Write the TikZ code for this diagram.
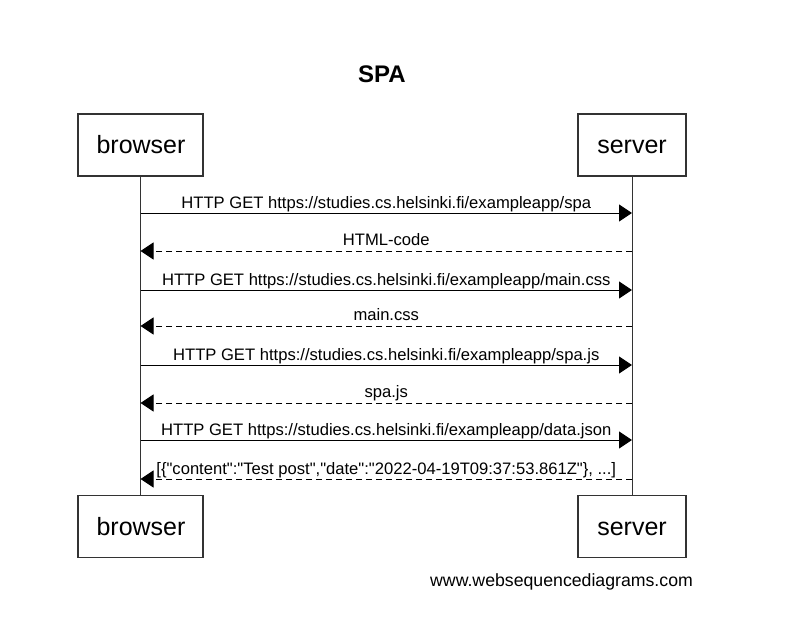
\documentclass[tikz,border=0pt]{standalone}
\usepackage{fontspec}
\setmainfont{Liberation Sans}[Ligatures=TeXOff]
\usetikzlibrary{arrows.meta}
\begin{document}
\begin{tikzpicture}[x=1pt,y=-1pt,
  actor/.style={draw=black!80,line width=1.2pt,minimum width=125pt,minimum height=62pt,inner sep=0pt},
  actlbl/.style={font=\fontsize{25}{30}\selectfont,anchor=base,inner sep=0pt},
  msg/.style={line width=0.9pt,-{Triangle[length=13pt,width=17pt]}},
  reply/.style={msg,dash pattern=on 6pt off 4pt},
  lbl/.style={font=\fontsize{16.6}{19}\selectfont,inner sep=0pt,anchor=base}]
\useasboundingbox (0,0) rectangle (793,620);
\node[font=\bfseries\fontsize{24}{28}\selectfont,anchor=base,inner sep=0pt] (title) at (382,83) {SPA};
\node[actor] (bt) at (140.5,145) {};
\node[actor,minimum width=108pt] (st) at (632,145) {};
\node[actor] (bb) at (140.5,526.5) {};
\node[actor,minimum width=108pt] (sb) at (632,526.5) {};
\node[actlbl] (btl) at (141,154) {browser};
\node[actlbl] (stl) at (632,154) {server};
\node[actlbl] (bbl) at (141,535) {browser};
\node[actlbl] (sbl) at (632,535) {server};
\draw[line width=1pt,black!80] (bt.south) -- (bb.north);
\draw[line width=1pt,black!80] (st.south) -- (sb.north);
\foreach \n/\y in {1/213,2/251,3/290,4/326,5/365,6/403,7/440,8/479}{
  \coordinate (b\n) at (bt.south |- 0,\y);
  \coordinate (s\n) at (st.south |- 0,\y);
}
\draw[msg] (b1) -- (s1) node[lbl,midway,yshift=4.5pt] {HTTP GET https://studies.cs.helsinki.fi/exampleapp/spa};
\draw[reply] (s2) -- (b2) node[lbl,midway,yshift=5pt] {HTML-code};
\draw[msg] (b3) -- (s3) node[lbl,midway,yshift=4.5pt] {HTTP GET https://studies.cs.helsinki.fi/exampleapp/main.css};
\draw[reply] (s4) -- (b4) node[lbl,midway,yshift=5pt] {main.css};
\draw[msg] (b5) -- (s5) node[lbl,midway,yshift=4.5pt] {HTTP GET https://studies.cs.helsinki.fi/exampleapp/spa.js};
\draw[reply] (s6) -- (b6) node[lbl,midway,yshift=5pt] {spa.js};
\draw[msg] (b7) -- (s7) node[lbl,midway,yshift=4.5pt] {HTTP GET https://studies.cs.helsinki.fi/exampleapp/data.json};
\draw[reply] (s8) -- (b8) node[lbl,midway,yshift=5pt] {[\{"content":"Test post","date":"2022-04-19T09:37:53.861Z"\}, ...]};
\node[font=\fontsize{17.7}{21}\selectfont,anchor=base west,inner sep=0pt] (footer) at (430,586) {www.websequencediagrams.com};
\end{tikzpicture}
\end{document}
